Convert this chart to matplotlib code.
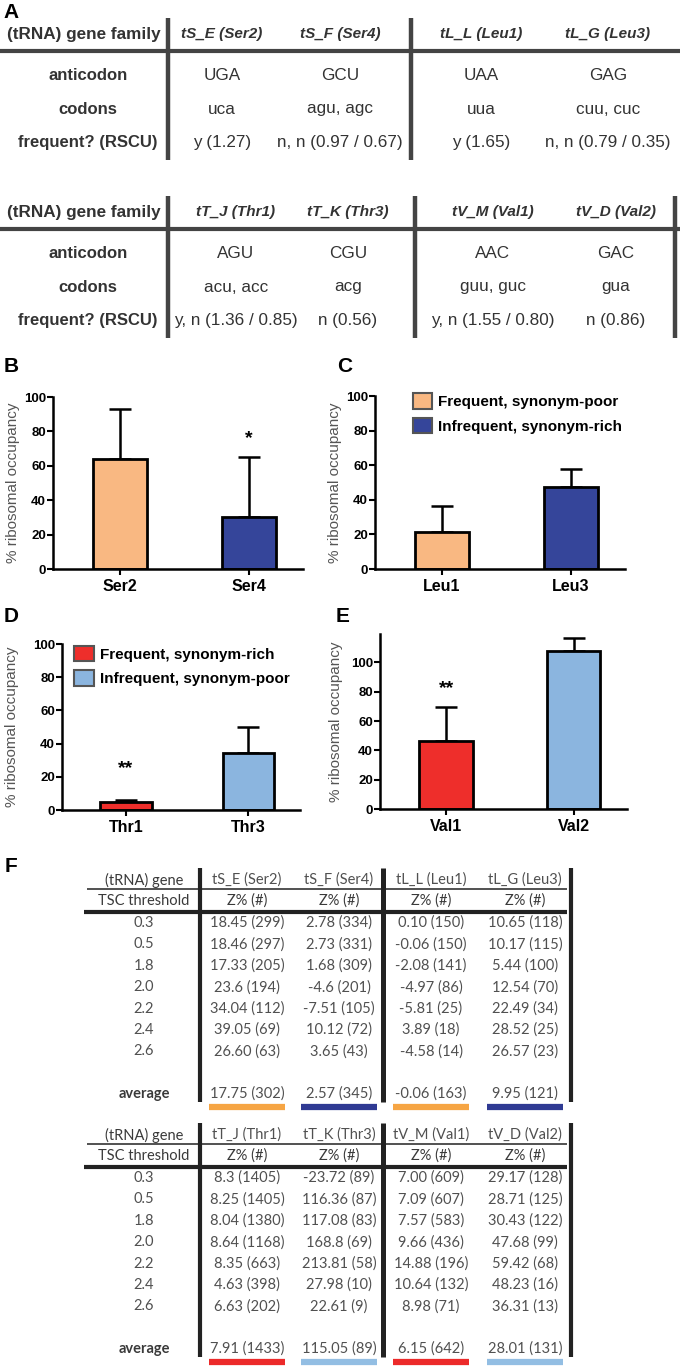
import numpy as np
import matplotlib
matplotlib.use("Agg")
import matplotlib.pyplot as plt
from matplotlib.patches import Patch

plt.rcParams["font.family"] = ["Liberation Sans", "DejaVu Sans"]

# ---- panel A tables ----
a1_genes = ["tS_E (Ser2)", "tS_F (Ser4)", "tL_L (Leu1)", "tL_G (Leu3)"]
a1_anticodon = ["UGA", "GCU", "UAA", "GAG"]
a1_codons = ["uca", "agu, agc", "uua", "cuu, cuc"]
a1_rscu = ["y (1.27)", "n, n (0.97 / 0.67)", "y (1.65)", "n, n (0.79 / 0.35)"]

a2_genes = ["tT_J (Thr1)", "tT_K (Thr3)", "tV_M (Val1)", "tV_D (Val2)"]
a2_anticodon = ["AGU", "CGU", "AAC", "GAC"]
a2_codons = ["acu, acc", "acg", "guu, guc", "gua"]
a2_rscu = ["y, n (1.36 / 0.85)", "n (0.56)", "y, n (1.55 / 0.80)", "n (0.86)"]

a_rows = ["anticodon", "codons", "frequent? (RSCU)"]

# ---- panels B-E bars ----
b_labels = ["Ser2", "Ser4"]
b_vals = [64.0, 30.4]
b_err = [29.0, 35.0]

c_labels = ["Leu1", "Leu3"]
c_vals = [21.6, 47.2]
c_err = [14.8, 10.6]

d_labels = ["Thr1", "Thr3"]
d_vals = [5.0, 34.5]
d_err = [1.0, 15.2]

e_labels = ["Val1", "Val2"]
e_vals = [46.7, 107.5]
e_err = [23.2, 9.2]

# ---- panel F tables ----
f_thresholds = ["0.3", "0.5", "1.8", "2.0", "2.2", "2.4", "2.6"]

f1_genes = ["tS_E (Ser2)", "tS_F (Ser4)", "tL_L (Leu1)", "tL_G (Leu3)"]
f1_rows = [
    ["18.45 (299)", "2.78 (334)", "0.10 (150)", "10.65 (118)"],
    ["18.46 (297)", "2.73 (331)", "-0.06 (150)", "10.17 (115)"],
    ["17.33 (205)", "1.68 (309)", "-2.08 (141)", "5.44 (100)"],
    ["23.6 (194)", "-4.6 (201)", "-4.97 (86)", "12.54 (70)"],
    ["34.04 (112)", "-7.51 (105)", "-5.81 (25)", "22.49 (34)"],
    ["39.05 (69)", "10.12 (72)", "3.89 (18)", "28.52 (25)"],
    ["26.60 (63)", "3.65 (43)", "-4.58 (14)", "26.57 (23)"],
]
f1_average = ["17.75 (302)", "2.57 (345)", "-0.06 (163)", "9.95 (121)"]

f2_genes = ["tT_J (Thr1)", "tT_K (Thr3)", "tV_M (Val1)", "tV_D (Val2)"]
f2_rows = [
    ["8.3 (1405)", "-23.72 (89)", "7.00 (609)", "29.17 (128)"],
    ["8.25 (1405)", "116.36 (87)", "7.09 (607)", "28.71 (125)"],
    ["8.04 (1380)", "117.08 (83)", "7.57 (583)", "30.43 (122)"],
    ["8.64 (1168)", "168.8 (69)", "9.66 (436)", "47.68 (99)"],
    ["8.35 (663)", "213.81 (58)", "14.88 (196)", "59.42 (68)"],
    ["4.63 (398)", "27.98 (10)", "10.64 (132)", "48.23 (16)"],
    ["6.63 (202)", "22.61 (9)", "8.98 (71)", "36.31 (13)"],
]
f2_average = ["7.91 (1433)", "115.05 (89)", "6.15 (642)", "28.01 (131)"]

# colours
peach, navy = "#F9B882", "#35459A"
red, lightblue = "#EE2E2B", "#8BB5DF"
f_orange, f_navy = "#F6A544", "#2F3A93"
f_red, f_blue = "#EC2A2A", "#93BEE3"

W, H = 680, 1366
fig = plt.figure(figsize=(W / 100, H / 100), dpi=100)

# canvas in pixel units (y down) for the tables and panel letters
cv = fig.add_axes([0, 0, 1, 1])
cv.set_xlim(0, W)
cv.set_ylim(H, 0)
cv.axis("off")

for letter, x, y in [("A", 11, 13), ("B", 11, 366), ("C", 345, 366),
                     ("D", 11, 617), ("E", 343, 617), ("F", 11, 866)]:
    cv.text(x, y, letter, fontsize=15, fontweight="bold", ha="center", va="center")


def table_a(top, genes, anticodon, codons, rscu, col_x, vlines):
    tc = "#333333"
    cv.text(84, top + 16, "(tRNA) gene family", ha="center", va="center",
            fontsize=12.3, fontweight="bold", color=tc)
    for x, g in zip(col_x, genes):
        cv.text(x, top + 16, g, ha="center", va="center", fontsize=11,
                fontweight="bold", style="italic", color=tc)
    cv.hlines(top + 33, 0, W, color="#444444", lw=3)
    for i, (lab, vals) in enumerate(zip(a_rows, [anticodon, codons, rscu])):
        y = top + 58 + 33 * i
        cv.text(88, y, lab, ha="center", va="center", fontsize=12,
                fontweight="bold", color=tc)
        for x, v in zip(col_x, vals):
            cv.text(x, y, v, ha="center", va="center", fontsize=12.3, color=tc)
    cv.vlines(vlines, top, top + 142, color="#444444", lw=3.2)


table_a(18, a1_genes, a1_anticodon, a1_codons, a1_rscu,
        [222, 340, 481, 608], [168, 411])
table_a(196, a2_genes, a2_anticodon, a2_codons, a2_rscu,
        [236, 348, 493, 616], [168, 415, 675])


def px_axes(left, top, right, bottom):
    return fig.add_axes([left / W, 1 - bottom / H, (right - left) / W, (bottom - top) / H])


def bar_panel(box, labels, vals, errs, colors, ymax, label_x, sig=None):
    ax = px_axes(*box)
    x = np.arange(len(vals))
    ax.errorbar(x, vals, yerr=[np.zeros(len(errs)), errs], fmt="none", ecolor="black",
                elinewidth=1.8, capsize=8, capthick=1.8, zorder=1)
    ax.bar(x, vals, width=0.42, color=colors, edgecolor="black", linewidth=2, zorder=2)
    ax.set_xlim(-0.52, 1.42)
    ax.set_ylim(0, ymax)
    ax.set_yticks([0, 20, 40, 60, 80, 100])
    ax.set_xticks(x)
    ax.set_xticklabels(labels, fontsize=11.5, fontweight="bold")
    for t in ax.get_yticklabels():
        t.set_fontweight("bold")
    ax.tick_params(axis="y", labelsize=9.5, length=4, width=1.5, pad=1)
    ax.tick_params(axis="x", length=4, width=1.5, pad=3)
    for s in ["top", "right"]:
        ax.spines[s].set_visible(False)
    for s in ["left", "bottom"]:
        ax.spines[s].set_linewidth(1.8)
    ax.set_ylabel("% ribosomal occupancy", fontsize=11, color="#555555")
    ax.yaxis.set_label_coords(label_x, 0.5)
    ax.patch.set_alpha(0)
    if sig is not None:
        i, y, s = sig
        ax.text(i, y, s, ha="center", va="center", fontsize=14, fontweight="bold")
    return ax


def legend(ax, names, colors, anchor):
    handles = [Patch(facecolor=c, edgecolor="#555555", linewidth=1.5, label=n)
               for n, c in zip(names, colors)]
    ax.legend(handles=handles, loc="upper left", bbox_to_anchor=anchor, frameon=False,
              prop=dict(weight="bold", size=11), handlelength=1.3, handleheight=1.2,
              handletextpad=0.4, labelspacing=0.55, borderpad=0, borderaxespad=0)


bar_panel((53, 397, 303, 569), b_labels, b_vals, b_err, [peach, navy], 100, -0.13,
          sig=(1, 76, "*"))
axc = bar_panel((375, 396, 625, 569), c_labels, c_vals, c_err, [peach, navy], 100, -0.13)
legend(axc, ["Frequent, synonym-poor", "Infrequent, synonym-rich"], [peach, navy], (0.15, 1.015))
axd = bar_panel((62, 644, 300, 810), d_labels, d_vals, d_err, [red, lightblue], 100, -0.18,
                sig=(0, 25, "**"))
legend(axd, ["Frequent, synonym-rich", "Infrequent, synonym-poor"], [red, lightblue], (0.05, 0.99))
bar_panel((380, 634, 627, 809), e_labels, e_vals, e_err, [red, lightblue], 119.4, -0.15,
          sig=(0, 82, "**"))


def table_f(top, genes, rows, average, bar_colors):
    fam = ["Lato", "DejaVu Sans"]
    hc, vc = "#3a3a3a", "#505050"
    col_x = [247, 339, 431, 525]
    lab_x = 144
    cv.text(lab_x, top, "(tRNA) gene", ha="center", va="center", fontsize=10.5,
            family=fam, color=hc)
    cv.text(lab_x, top + 21, "TSC threshold", ha="center", va="center", fontsize=10.5,
            family=fam, color=hc)
    for x, g in zip(col_x, genes):
        cv.text(x, top, g, ha="center", va="center", fontsize=10.5, family=fam, color=vc)
        cv.text(x, top + 21, "Z% (#)", ha="center", va="center", fontsize=10.5,
                family=fam, color=hc)
    cv.hlines(top + 9, 87, 567, color="#333333", lw=1.2)
    cv.hlines(top + 32, 84, 567, color="#222222", lw=3)
    for i, (th, vals) in enumerate(zip(f_thresholds, rows)):
        y = top + 43 + 21.4 * i
        cv.text(lab_x, y, th, ha="center", va="center", fontsize=10.5, family=fam, color=vc)
        for x, v in zip(col_x, vals):
            cv.text(x, y, v, ha="center", va="center", fontsize=10.5, family=fam, color=vc)
    ya = top + 214
    cv.text(lab_x, ya, "average", ha="center", va="center", fontsize=10.5, family=fam,
            color=hc, fontweight="bold")
    for x, v, c in zip(col_x, average, bar_colors):
        cv.text(x, ya, v, ha="center", va="center", fontsize=10.5, family=fam, color=vc)
        cv.hlines(ya + 13, x - 38, x + 38, color=c, lw=4.5)
    cv.vlines([200, 571], top - 12, top + 222, color="#222222", lw=3)
    cv.vlines([383], top - 12, top + 222, color="#222222", lw=3.6)


table_f(880, f1_genes, f1_rows, f1_average, [f_orange, f_navy, f_orange, f_navy])
table_f(1135, f2_genes, f2_rows, f2_average, [f_red, f_blue, f_red, f_blue])

fig.savefig("out.png", dpi=100)
